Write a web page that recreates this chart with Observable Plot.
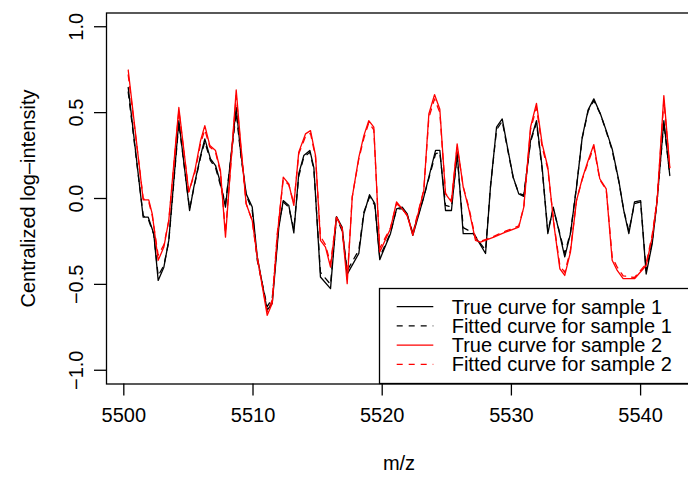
<!DOCTYPE html>
<html>
<head>
<meta charset="utf-8">
<script src="https://cdn.jsdelivr.net/npm/d3@7"></script>
<script src="https://cdn.jsdelivr.net/npm/@observablehq/plot@0.6"></script>
<style>
  html, body { margin: 0; padding: 0; background: #fff; overflow: hidden; }
  #chart { width: 688px; height: 480px; }
</style>
</head>
<body>
<div id="chart"></div>
<script>
// ---- data ----
const mz1 = [5500.34,5501.50,5501.89,5502.32,5502.66,5503.10,5503.48,5504.26,5505.09,5505.42,
  5505.94,5506.27,5506.71,5507.10,5507.43,5507.87,5508.70,5509.03,5509.47,5509.94,
  5510.33,5511.10,5511.49,5512.00,5512.34,5512.77,5513.16,5513.54,5513.93,5514.40,
  5514.71,5515.22,5516.00,5516.46,5516.90,5517.29,5518.19,5518.58,5519.02,5519.43,
  5519.81,5520.64,5521.11,5521.55,5521.94,5522.37,5523.22,5524.13,5524.46,5524.90,
  5525.36,5525.80,5526.27,5527.04,5527.48,5528.00,5528.38,5528.85,5529.29,5529.67,
  5530.14,5530.57,5530.96,5531.48,5531.94,5532.38,5532.82,5533.24,5533.67,5534.13,
  5534.57,5535.04,5535.48,5535.94,5536.38,5536.90,5537.34,5537.80,5538.31,5538.70,
  5539.09,5539.53,5540.00,5540.43,5540.90,5541.28,5541.80,5542.26];
const true1 = [0.647,-0.109,-0.109,-0.205,-0.477,-0.40,-0.244,0.453,-0.07,0.066,
  0.25,0.347,0.231,0.192,0.105,-0.05,0.53,0.28,0.027,-0.05,
  -0.34,-0.65,-0.61,-0.167,-0.012,-0.04,-0.20,0.144,0.25,0.28,
  0.18,-0.457,-0.525,-0.105,-0.167,-0.44,-0.32,-0.09,0.022,-0.03,
  -0.356,-0.205,-0.06,-0.05,-0.09,-0.215,0.008,0.28,0.28,-0.07,
  -0.07,0.27,-0.205,-0.205,-0.254,-0.32,0.066,0.415,0.463,0.308,
  0.124,0.027,0.012,0.337,0.453,0.182,-0.205,-0.05,-0.186,-0.34,
  -0.205,0.066,0.356,0.516,0.58,0.49,0.395,0.289,0.105,-0.07,
  -0.205,-0.02,-0.012,-0.44,-0.263,-0.012,0.453,0.134];
const fitted1 = [0.62,-0.10,-0.12,-0.21,-0.45,-0.39,-0.25,0.44,-0.06,0.06,
  0.24,0.33,0.22,0.18,0.09,-0.03,0.50,0.27,0.02,-0.07,
  -0.36,-0.63,-0.58,-0.15,-0.02,-0.05,-0.18,0.13,0.24,0.27,
  0.17,-0.43,-0.50,-0.11,-0.19,-0.42,-0.30,-0.08,0.01,-0.04,
  -0.34,-0.20,-0.06,-0.06,-0.10,-0.20,0.01,0.26,0.27,-0.04,
  -0.05,0.25,-0.17,-0.20,-0.25,-0.30,0.07,0.40,0.45,0.30,
  0.12,0.03,0.02,0.33,0.44,0.17,-0.19,-0.06,-0.18,-0.32,
  -0.20,0.07,0.35,0.51,0.57,0.49,0.39,0.28,0.10,-0.07,
  -0.19,-0.03,-0.02,-0.42,-0.25,-0.01,0.44,0.14];
const mz2 = [5500.34,5501.50,5501.93,5502.20,5502.66,5503.10,5503.48,5504.26,5505.03,5505.50,
  5505.94,5506.27,5506.66,5507.10,5507.48,5507.87,5508.70,5509.03,5509.47,5509.94,
  5510.33,5511.10,5511.49,5511.87,5512.34,5512.77,5513.16,5513.54,5514.06,5514.45,
  5514.84,5515.22,5515.61,5516.00,5516.46,5516.90,5517.29,5517.68,5518.19,5518.58,
  5518.96,5519.35,5519.81,5520.64,5521.11,5521.55,5521.94,5522.37,5523.22,5523.61,
  5524.05,5524.46,5524.90,5525.36,5525.80,5526.27,5526.70,5527.22,5527.61,5528.64,
  5529.54,5530.57,5530.96,5531.48,5531.94,5532.38,5532.82,5533.28,5533.75,5534.13,
  5534.57,5535.04,5535.48,5535.94,5536.38,5536.84,5537.34,5537.80,5538.19,5538.65,
  5539.53,5540.43,5540.90,5541.28,5541.80,5542.26];
const true2 = [0.748,-0.008,-0.008,-0.089,-0.36,-0.283,-0.128,0.53,0.037,0.163,
  0.337,0.424,0.308,0.279,0.163,-0.225,0.632,0.337,-0.031,-0.128,
  -0.34,-0.68,-0.61,-0.225,0.124,0.085,-0.04,0.27,0.376,0.395,
  0.25,-0.244,-0.283,-0.40,-0.109,-0.176,-0.496,0.008,0.24,0.366,
  0.453,0.415,-0.312,-0.176,-0.02,-0.06,-0.099,-0.215,0.047,0.492,
  0.605,0.52,0.027,-0.02,0.318,0.066,-0.06,-0.244,-0.254,-0.225,
  -0.196,-0.167,-0.05,0.415,0.554,0.318,0.182,-0.147,-0.409,-0.448,
  -0.312,-0.012,0.115,0.221,0.314,0.115,0.056,-0.36,-0.419,-0.467,
  -0.467,-0.39,-0.225,-0.012,0.599,0.182];
const fitted2 = [0.72,0.00,-0.02,-0.10,-0.33,-0.27,-0.13,0.51,0.04,0.15,
  0.32,0.40,0.30,0.27,0.15,-0.20,0.60,0.32,-0.03,-0.13,
  -0.35,-0.66,-0.59,-0.21,0.11,0.08,-0.03,0.26,0.36,0.38,
  0.24,-0.22,-0.27,-0.38,-0.11,-0.17,-0.47,0.01,0.23,0.35,
  0.44,0.40,-0.29,-0.17,-0.03,-0.06,-0.10,-0.20,0.05,0.47,
  0.58,0.50,0.03,-0.01,0.30,0.07,-0.05,-0.23,-0.25,-0.22,
  -0.19,-0.16,-0.05,0.40,0.53,0.30,0.17,-0.14,-0.39,-0.43,
  -0.30,-0.01,0.11,0.21,0.30,0.11,0.05,-0.34,-0.40,-0.45,
  -0.46,-0.38,-0.21,-0.01,0.57,0.18];

const xTicks = [5500, 5510, 5520, 5530, 5540];
const yTicks = [-1.0, -0.5, 0.0, 0.5, 1.0];
const yTickLabels = ["\u22121.0", "\u22120.5", "0.0", "0.5", "1.0"];
const xLabel = "m/z";
const yLabel = "Centralized log\u2013intensity";
const seriesNames = ["True curve for sample 1", "Fitted curve for sample 1",
                     "True curve for sample 2", "Fitted curve for sample 2"];
const seriesColors = ["#000000", "#000000", "#ff0000", "#ff0000"];
const seriesDash = [null, "6,6", null, "6,6"];

// ---- build tables ----
const s1 = mz1.map((m, i) => ({mz: m, t: true1[i], f: fitted1[i]}));
const s2 = mz2.map((m, i) => ({mz: m, t: true2[i], f: fitted2[i]}));

const font = "'Liberation Sans', Arial, Helvetica, sans-serif";
const lw = 1.3;

const chart = Plot.plot({
  width: 688,
  height: 480,
  marginLeft: 106,
  marginRight: -3,
  marginTop: 12.5,
  marginBottom: 96.5,
  style: {fontFamily: font, fontSize: "20px", background: "#fff", color: "#000", overflow: "hidden"},
  x: {domain: [5498.66, 5543.94]},
  y: {domain: [-1.08, 1.08]},
  marks: [
    Plot.line(s1, {x: "mz", y: "t", stroke: seriesColors[0], strokeWidth: lw}),
    Plot.line(s1, {x: "mz", y: "f", stroke: seriesColors[1], strokeWidth: lw, strokeDasharray: seriesDash[1]}),
    Plot.line(s2, {x: "mz", y: "t", stroke: seriesColors[2], strokeWidth: lw}),
    Plot.line(s2, {x: "mz", y: "f", stroke: seriesColors[3], strokeWidth: lw, strokeDasharray: seriesDash[3]}),
    Plot.frame({stroke: "#000", strokeWidth: lw}),
    Plot.axisX({ticks: xTicks, tickSize: 12, tickPadding: 12, tickFormat: d => String(d),
                strokeWidth: lw, label: null}),
    Plot.axisY({ticks: yTicks, tickSize: 12, tickFormat: () => "", strokeWidth: lw, label: null}),
    Plot.text(yTicks, {y: d => d, text: (d, i) => yTickLabels[i], frameAnchor: "left",
                       dx: -24, rotate: -90, textAnchor: "middle", lineAnchor: "bottom", fill: "#000"}),
    Plot.text([xLabel], {text: d => d, frameAnchor: "bottom", dy: 72, lineAnchor: "top",
                         textAnchor: "middle", fill: "#000"}),
    Plot.text([yLabel], {text: d => d, frameAnchor: "left", dx: -72, rotate: -90,
                         textAnchor: "middle", lineAnchor: "bottom", fill: "#000"})
  ]
});

// ---- legend (bottom-right inside the plot box) ----
const svg = d3.select(chart);
const lg = svg.append("g").attr("font-family", font).attr("font-size", 20)
  .attr("text-anchor", "start");
lg.append("rect").attr("x", 379.5).attr("y", 288.5).attr("width", 330).attr("height", 95)
  .attr("fill", "#fff").attr("stroke", "#000").attr("stroke-width", lw);
const rowY = [306.7, 325.9, 345.1, 364.3];
seriesNames.forEach((name, i) => {
  lg.append("line").attr("x1", 396.7).attr("x2", 433.3).attr("y1", rowY[i]).attr("y2", rowY[i])
    .attr("stroke", seriesColors[i]).attr("stroke-width", lw)
    .attr("stroke-dasharray", seriesDash[i]);
  lg.append("text").attr("x", 451.7).attr("y", rowY[i]).attr("dy", "0.35em")
    .attr("text-anchor", "start").attr("fill", "#000").text(name);
});

document.getElementById("chart").appendChild(chart);
</script>
</body>
</html>
